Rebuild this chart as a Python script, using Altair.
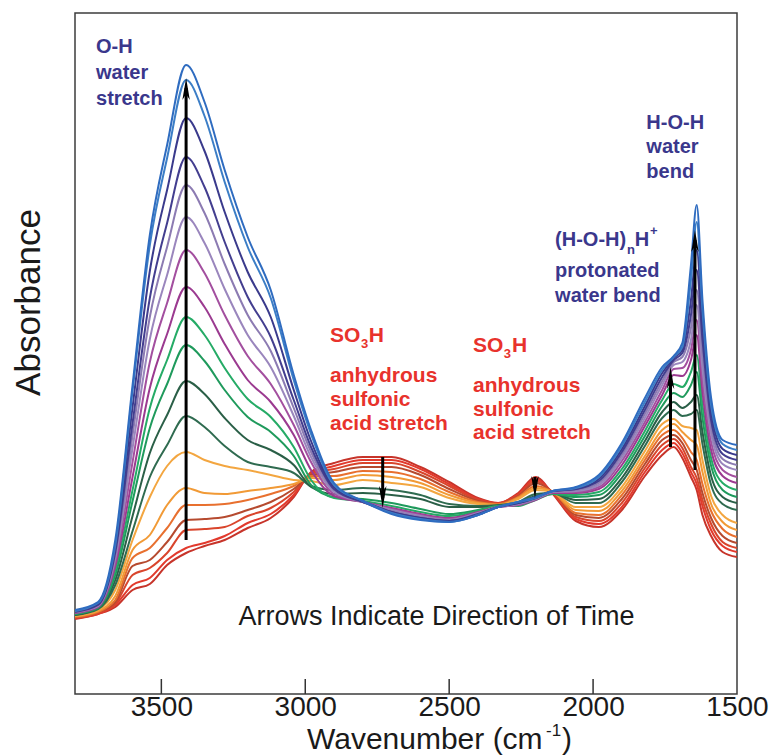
import altair as alt
import pandas as pd

# ---------------- data ----------------
wavenumbers = [3800, 3720, 3660, 3600, 3540, 3480, 3414, 3350, 3280, 3200, 3120, 3040,
               2980, 2900, 2800, 2700, 2600, 2500, 2400, 2330, 2260, 2200, 2140, 2060,
               1980, 1900, 1820, 1760, 1720, 1690, 1660, 1640, 1620, 1590, 1550, 1500]

# relative absorbance (arbitrary units), earliest scan first
scan_01 = [75, 80, 87, 104, 110, 129, 141, 148, 154, 166, 176, 197, 222, 231, 237, 237, 227, 212, 196, 191, 201, 217, 200, 173, 167, 184, 218, 239, 247, 236, 217, 204, 179, 158, 142, 137]
scan_02 = [76, 80, 89, 109, 116, 134, 146, 151, 158, 171, 180, 199, 221, 228, 234, 234, 225, 210, 195, 191, 200, 215, 201, 175, 170, 187, 222, 244, 251, 241, 222, 210, 188, 164, 148, 142]
scan_03 = [76, 81, 90, 119, 126, 141, 164, 165, 167, 178, 186, 202, 220, 225, 231, 231, 222, 208, 194, 190, 199, 213, 201, 177, 173, 191, 226, 249, 255, 246, 227, 216, 194, 170, 152, 146]
scan_04 = [77, 82, 92, 128, 134, 152, 174, 175, 177, 184, 192, 205, 219, 222, 227, 227, 219, 205, 193, 190, 198, 211, 202, 179, 176, 195, 230, 254, 259, 251, 234, 224, 201, 176, 158, 151]
scan_05 = [77, 82, 94, 136, 146, 166, 189, 189, 190, 194, 200, 208, 218, 218, 223, 222, 215, 202, 192, 190, 197, 208, 202, 181, 179, 199, 234, 259, 264, 256, 242, 234, 210, 183, 165, 157]
scan_06 = [78, 83, 98, 144, 159, 189, 206, 201, 200, 203, 206, 210, 216, 214, 219, 217, 211, 199, 191, 189, 196, 206, 202, 184, 183, 203, 238, 264, 270, 262, 254, 249, 222, 190, 172, 164]
scan_07 = [78, 84, 104, 154, 197, 228, 242, 234, 228, 224, 219, 214, 213, 209, 214, 211, 207, 196, 190, 189, 195, 204, 202, 187, 187, 207, 243, 270, 275, 268, 266, 264, 234, 198, 179, 171]
scan_08 = [79, 85, 109, 163, 217, 249, 278, 267, 248, 232, 227, 221, 208, 204, 206, 204, 199, 190, 188, 189, 192, 200, 201, 191, 191, 212, 248, 276, 284, 278, 280, 284, 250, 209, 190, 184]
scan_09 = [79, 86, 114, 178, 241, 279, 313, 300, 276, 254, 244, 229, 207, 200, 201, 199, 195, 187, 187, 188, 191, 198, 201, 194, 195, 216, 253, 282, 292, 286, 292, 299, 262, 218, 197, 191]
scan_10 = [80, 86, 119, 193, 266, 310, 349, 333, 304, 277, 262, 238, 209, 197, 195, 191, 185, 180, 184, 188, 189, 195, 200, 197, 199, 221, 258, 288, 301, 297, 309, 322, 276, 228, 204, 197]
scan_11 = [80, 87, 124, 204, 286, 334, 377, 359, 326, 295, 277, 247, 214, 196, 193, 188, 182, 178, 183, 188, 188, 194, 200, 199, 202, 225, 263, 294, 310, 307, 322, 339, 289, 236, 211, 204]
scan_12 = [81, 87, 128, 217, 306, 360, 407, 387, 350, 314, 292, 259, 224, 198, 192, 186, 180, 176, 182, 187, 189, 194, 201, 201, 205, 229, 268, 299, 319, 318, 334, 359, 302, 244, 218, 211]
scan_13 = [81, 88, 132, 232, 332, 391, 444, 421, 379, 338, 310, 269, 232, 200, 192, 185, 179, 175, 181, 187, 189, 195, 202, 202, 207, 233, 272, 304, 325, 326, 344, 374, 314, 252, 224, 217]
scan_14 = [82, 88, 136, 246, 355, 419, 477, 451, 405, 359, 327, 278, 237, 202, 192, 184, 178, 174, 181, 187, 190, 195, 202, 203, 209, 236, 276, 309, 329, 332, 354, 389, 326, 260, 230, 224]
scan_15 = [82, 89, 139, 259, 377, 447, 509, 481, 430, 379, 343, 286, 242, 204, 192, 183, 177, 174, 180, 187, 190, 195, 202, 204, 211, 239, 280, 313, 332, 337, 366, 404, 339, 267, 235, 229]
scan_16 = [82, 89, 142, 271, 396, 471, 537, 507, 452, 397, 357, 294, 247, 205, 192, 182, 176, 173, 180, 187, 191, 196, 203, 205, 213, 242, 284, 317, 334, 341, 379, 424, 354, 274, 240, 234]
scan_17 = [83, 90, 146, 287, 423, 504, 576, 543, 482, 422, 377, 304, 253, 207, 193, 182, 176, 173, 179, 187, 191, 196, 203, 205, 215, 245, 288, 321, 336, 344, 394, 444, 369, 282, 245, 239]
scan_18 = [83, 91, 149, 303, 449, 536, 614, 578, 512, 447, 396, 314, 260, 209, 193, 181, 175, 172, 179, 187, 192, 196, 203, 206, 217, 248, 292, 324, 337, 347, 414, 472, 384, 289, 250, 244]
scan_19 = [84, 92, 154, 309, 459, 549, 629, 592, 524, 457, 404, 319, 264, 211, 193, 180, 174, 172, 179, 187, 192, 197, 203, 207, 219, 251, 296, 327, 338, 351, 429, 489, 394, 296, 254, 249]

scans = [scan_01, scan_02, scan_03, scan_04, scan_05, scan_06, scan_07, scan_08, scan_09, scan_10,
         scan_11, scan_12, scan_13, scan_14, scan_15, scan_16, scan_17, scan_18, scan_19]
scan_names = ["scan %02d" % (i + 1) for i in range(len(scans))]
scan_colors = ["#c7342a", "#e23a2d", "#d9452c", "#b64a2f", "#e8702f", "#f19a36", "#f3a640",
               "#2f6b50", "#2a5f47", "#1f9a5c", "#25ab66", "#9b3a90", "#a34f9f", "#9a86bd",
               "#8c7bb2", "#433e8f", "#3a3a8c", "#3c7ec6", "#2f6cc0"]

tick_values = [3500, 3000, 2500, 2000]
label_values = [3500, 3000, 2500, 2000, 1500]

# arrows: wavenumber, tail and tip (relative absorbance)
arrow_w = [3414, 2731, 2202, 1731, 1646]
arrow_tail = [154, 237, 217, 247, 224]
arrow_tip = [616, 186, 196, 327, 464]
arrow_dir = ["up", "down", "down", "up", "up"]

# annotations (text, wavenumber, relative absorbance)
navy_text = ["O-H", "water", "stretch", "H-O-H", "water", "bend", "(H-O-H)", "H", "protonated", "water bend"]
navy_w = [3727, 3727, 3727, 1815, 1815, 1815, 2132, 1855, 2132, 2132]
navy_a = [647, 621, 595, 571, 547, 522, 454, 454, 423, 398]
navy_small_text = ["n", "+"]
navy_small_w = [1882, 1802]
navy_small_a = [444, 463]

red_text = ["SO", "H", "anhydrous", "sulfonic", "acid stretch", "SO", "H", "anhydrous", "sulfonic", "acid stretch"]
red_w = [2914, 2779, 2914, 2914, 2914, 2417, 2282, 2417, 2417, 2417]
red_a = [358, 358, 318, 294, 270, 348, 348, 308, 284, 261]
red_small_text = ["3", "3"]
red_small_w = [2806, 2310]
red_small_a = [350, 340]

note_text = ["Arrows Indicate Direction of Time"]
note_w = [2544]
note_a = [77]

# ---------------- build tables ----------------
rows = []
for name, vals in zip(scan_names, scans):
    for w, a in zip(wavenumbers, vals):
        rows.append({"wavenumber": w, "absorbance": a, "scan": name})
df = pd.DataFrame(rows)

FONT = "Liberation Sans"
x_scale = alt.Scale(domain=[1500, 3800], reverse=True, nice=False, zero=False)
y_scale = alt.Scale(domain=[0, 681], nice=False, zero=False)

x_axis = alt.Axis(values=label_values, format="d", labelFontSize=28, labelFont=FONT,
                  labelColor="#1a1a1a", ticks=False, domain=False, grid=False,
                  labelPadding=-1, labelFlush=False, title=None)
y_axis = alt.Axis(labels=False, ticks=False, domain=False, grid=False, title="Absorbance",
                  titleFontSize=35, titleFont=FONT, titleFontWeight="normal",
                  titleColor="#1a1a1a", titleAngle=270, titleX=-47, titleY=289,
                  titleAlign="center", titleBaseline="middle")

X = lambda: alt.X("wavenumber:Q", scale=x_scale, title=None)
Y = lambda: alt.Y("absorbance:Q", scale=y_scale, title="Absorbance")

lines = alt.Chart(df).mark_line(interpolate="monotone", strokeWidth=2, clip=True).encode(
    x=alt.X("wavenumber:Q", scale=x_scale, axis=x_axis),
    y=alt.Y("absorbance:Q", scale=y_scale, axis=y_axis),
    color=alt.Color("scan:N", scale=alt.Scale(domain=scan_names, range=scan_colors), legend=None),
)

ticks = alt.Chart(pd.DataFrame({"wavenumber": tick_values})).mark_rule(
    color="#333333", strokeWidth=1.5).encode(
    x=X(), y=alt.value(681), y2=alt.value(666))

arrows = pd.DataFrame({"wavenumber": arrow_w, "tail": arrow_tail, "absorbance": arrow_tip, "dir": arrow_dir})
up = arrows[arrows["dir"] == "up"]
down = arrows[arrows["dir"] == "down"]
UP_PATH = "M0,-1 L0.34,1 L0,0.45 L-0.34,1 Z"
DOWN_PATH = "M0,1 L0.34,-1 L0,-0.45 L-0.34,-1 Z"

shaft_up = alt.Chart(up).mark_rule(color="black", strokeWidth=3, y2Offset=10).encode(
    x=X(), y=alt.Y("tail:Q", scale=y_scale, title="Absorbance"), y2="absorbance:Q")
shaft_down = alt.Chart(down).mark_rule(color="black", strokeWidth=3, y2Offset=-10).encode(
    x=X(), y=alt.Y("tail:Q", scale=y_scale, title="Absorbance"), y2="absorbance:Q")
head_up = alt.Chart(up).mark_point(shape=UP_PATH, size=484, filled=True, color="black",
                                   opacity=1, strokeWidth=0, yOffset=11).encode(x=X(), y=Y())
head_down = alt.Chart(down).mark_point(shape=DOWN_PATH, size=484, filled=True, color="black",
                                       opacity=1, strokeWidth=0, yOffset=-11).encode(x=X(), y=Y())


def text_layer(texts, ws, As, color, size, weight, align="left"):
    d = pd.DataFrame({"label": texts, "wavenumber": ws, "absorbance": As})
    return alt.Chart(d).mark_text(font=FONT, fontSize=size, fontWeight=weight, color=color,
                                  align=align, baseline="middle").encode(
        x=X(), y=Y(), text="label:N")


NAVY = "#3a378c"
RED = "#e8322c"
navy = text_layer(navy_text, navy_w, navy_a, NAVY, 20, "bold")
navy_small = text_layer(navy_small_text, navy_small_w, navy_small_a, NAVY, 13, "bold")
red = text_layer(red_text, red_w, red_a, RED, 21, "bold")
red_small = text_layer(red_small_text, red_small_w, red_small_a, RED, 13, "bold")
note = text_layer(note_text, note_w, note_a, "#1a1a1a", 27, "normal", align="center")

# x axis title with superscript
title_df = pd.DataFrame({"t": ["Wavenumber (cm"]})
t1 = alt.Chart(title_df).mark_text(font=FONT, fontSize=30, color="#1a1a1a", align="left",
                                   baseline="alphabetic").encode(
    x=alt.value(232), y=alt.value(736), text="t:N")
t2 = alt.Chart(pd.DataFrame({"t": ["-1"]})).mark_text(font=FONT, fontSize=17, color="#1a1a1a",
                                                      align="left", baseline="alphabetic").encode(
    x=alt.value(471), y=alt.value(723), text="t:N")
t3 = alt.Chart(pd.DataFrame({"t": [")"]})).mark_text(font=FONT, fontSize=30, color="#1a1a1a",
                                                     align="left", baseline="alphabetic").encode(
    x=alt.value(487), y=alt.value(736), text="t:N")

chart = alt.layer(lines, ticks, shaft_up, shaft_down, head_up, head_down,
                  navy, navy_small, red, red_small, note, t1, t2, t3).properties(
    width=662, height=681,
    autosize=alt.AutoSizeParams(type="none"),
    padding={"left": 75, "top": 13, "right": 34, "bottom": 62},
    background="white",
).configure_view(stroke="#3c3c3c", strokeWidth=1.5)

chart.save("out.html", embed_options={"renderer": "svg", "actions": False})
